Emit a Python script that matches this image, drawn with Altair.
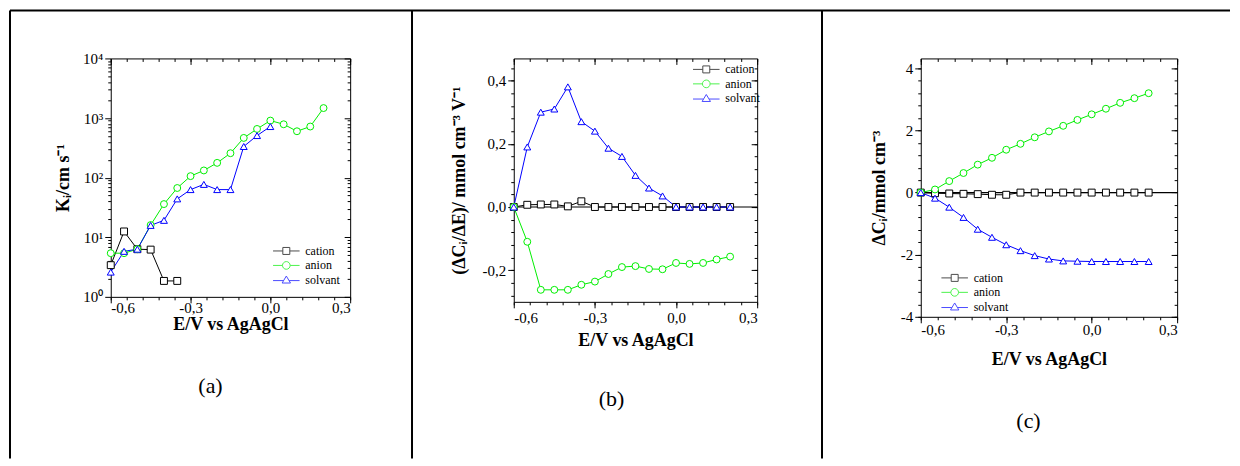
import altair as alt
import pandas as pd

# ---------------- data ----------------
E = [-0.6, -0.55, -0.5, -0.45, -0.4, -0.35, -0.3, -0.25, -0.2, -0.15,
     -0.1, -0.05, 0.0, 0.05, 0.1, 0.15, 0.2]
SERIES = ["cation", "anion", "solvant"]

# (a) K_i / cm s^-1 (log scale)
K_CATION = [3.4, 12.5, 6.3, 6.2, 1.85, 1.85]
K_ANION = [5.4, 5.4, 6.3, 16.0, 36.0, 67.0, 106.0, 132.0, 177.0, 257.0,
           464.0, 656.0, 906.0, 786.0, 600.0, 720.0, 1470.0]
K_SOLVANT = [2.6, 5.8, 6.3, 15.8, 19.2, 44.0, 63.0, 77.0, 63.0, 63.0,
             333.0, 508.0, 720.0]

# (b) (dC_i/dE) / mmol cm^-3 V^-1
R_CATION = [0.0, 0.007, 0.008, 0.008, 0.002, 0.018, 0.0, 0.0, 0.0, 0.0,
            0.0, 0.0, 0.0, 0.0, 0.0, 0.0, 0.0]
R_ANION = [0.0, -0.11, -0.262, -0.262, -0.262, -0.246, -0.236, -0.212, -0.19,
           -0.187, -0.196, -0.197, -0.177, -0.18, -0.177, -0.166, -0.157]
R_SOLVANT = [0.0, 0.19, 0.30, 0.31, 0.38, 0.27, 0.24, 0.186, 0.16, 0.10,
             0.06, 0.035, 0.0, 0.0, 0.0, 0.0, 0.0]

# (c) dC_i / mmol cm^-3
C_CATION = [0.0, -0.02, -0.03, -0.04, -0.05, -0.07, -0.07, 0.0, 0.0, 0.0,
            0.0, 0.0, 0.0, 0.0, 0.0, 0.0, 0.0]
C_ANION = [0.0, 0.1, 0.37, 0.63, 0.9, 1.12, 1.38, 1.57, 1.78, 1.97, 2.15,
           2.34, 2.52, 2.70, 2.89, 3.04, 3.2]
C_SOLVANT = [0.0, -0.18, -0.47, -0.8, -1.18, -1.44, -1.68, -1.87, -2.03,
             -2.14, -2.2, -2.21, -2.22, -2.22, -2.22, -2.22, -2.22]

X_MAJOR = [-0.6, -0.3, 0.0, 0.3]
X_MINOR = [round(-0.6 + 0.06 * i, 2) for i in range(16)]
A_MAJOR = [1, 10, 100, 1000, 10000]
A_MINOR = [m * 10 ** k for k in range(4) for m in range(2, 10)]
B_MAJOR = [-0.2, 0.0, 0.2, 0.4]
B_MINOR = [round(-0.28 + 0.04 * i, 2) for i in range(19)]
C_MAJOR = [-4, -2, 0, 2, 4]
C_MINOR = [round(-4 + 0.4 * i, 1) for i in range(21)]

FONT = "Liberation Serif"
COLORS = ["#000000", "#00ee00", "#0000ff"]
SHAPES = ["square", "circle", "triangle-up"]
LEG_SHAPES = [
    "M-3.8,0H-1M1,0H3.8M-1,-1H1V1H-1Z",
    "M-3.8,0H-1.1M1.1,0H3.8M-1.1,0A1.1,1.1,0,1,1,1.1,0A1.1,1.1,0,1,1,-1.1,0Z",
    "M-3.8,0.2H-0.8M0.8,0.2H3.8M0,-1.1L1.2,0.9H-1.2Z",
]

X_LABELS = "replace(replace(format(datum.value, '.1f'), '.', ','), '\u2212', '-')"
A_LABELS = ("datum.value < 5 ? '10\u2070' : datum.value < 50 ? '10\u00b9' : "
            "datum.value < 500 ? '10\u00b2' : datum.value < 5000 ? '10\u00b3' : '10\u2074'")
B_LABELS = "replace(replace(format(datum.value, '.1f'), '.', ','), '\u2212', '-')"
C_LABELS = "replace(format(datum.value, 'd'), '\u2212', '-')"


def long_df(values):
    rows = []
    for name, vals in zip(SERIES, values):
        for e, v in zip(E, vals):
            rows.append({"E": e, "value": v, "series": name})
    return pd.DataFrame(rows)


ONE = pd.DataFrame({"k": [0]})


def make_panel(df, yscale, y_major, y_minor, y_labels, y_title, y_title_pad,
               x_title_pad, x_label_pad, width, height, leg_xy, tag, tag_xy,
               zero_line=False, frame=False):
    xs = alt.Scale(domain=[-0.6, 0.3], nice=False, zero=False)

    def X(axis):
        return alt.X("E:Q", scale=xs, axis=axis)

    def Y(axis):
        return alt.Y("value:Q", scale=yscale, axis=axis)

    common = dict(domain=False, grid=False, tickColor="black", tickWidth=1)
    ax_b_major = alt.Axis(orient="bottom", values=X_MAJOR, tickSize=6,
                          labelExpr=X_LABELS, title="E/V vs AgAgCl",
                          titlePadding=x_title_pad, labelPadding=x_label_pad,
                          **common)
    ax_b_minor = alt.Axis(orient="bottom", values=X_MINOR, tickSize=3,
                          labels=False, title=None, **common)
    ax_t_major = alt.Axis(orient="top", values=X_MAJOR, tickSize=6, offset=-6,
                          labels=False, title=None, **common)
    ax_t_minor = alt.Axis(orient="top", values=X_MINOR, tickSize=3, offset=-3,
                          labels=False, title=None, **common)
    ax_l_major = alt.Axis(orient="left", values=y_major, tickSize=6,
                          labelExpr=y_labels, title=y_title,
                          titlePadding=y_title_pad, labelPadding=2, **common)
    ax_l_minor = alt.Axis(orient="left", values=y_minor, tickSize=3,
                          labels=False, title=None, **common)
    ax_r_major = alt.Axis(orient="right", values=y_major, tickSize=6, offset=-6,
                          labels=False, title=None, **common)
    ax_r_minor = alt.Axis(orient="right", values=y_minor, tickSize=3, offset=-3,
                          labels=False, title=None, **common)

    stroke = alt.Stroke("series:N", scale=alt.Scale(domain=SERIES, range=COLORS),
                        legend=None)
    shape = alt.Shape("series:N", scale=alt.Scale(domain=SERIES, range=SHAPES),
                      legend=None)
    base = alt.Chart(df)

    layers = []
    if zero_line:
        layers.append(alt.Chart(ONE).mark_rule(color="black", strokeWidth=1.2).encode(
            y=alt.YDatum(0, type="quantitative", scale=yscale, axis=None)))
    layers.append(base.mark_line(strokeWidth=1).encode(
        x=X(ax_b_major), y=Y(ax_l_major), stroke=stroke, detail="series:N"))
    layers.append(base.mark_point(filled=True, fill="white", size=48,
                                  strokeWidth=1, opacity=1).encode(
        x=X(ax_b_minor), y=Y(ax_l_minor), stroke=stroke, shape=shape))
    layers.append(base.mark_point(opacity=0).encode(x=X(ax_t_major), y=Y(ax_r_major)))
    layers.append(base.mark_point(opacity=0).encode(x=X(ax_t_minor), y=Y(ax_r_minor)))

    leg = alt.Legend(orient="none", legendX=leg_xy[0], legendY=leg_xy[1],
                     title=None, labelFont=FONT, labelFontSize=12,
                     labelColor="black", symbolSize=49, symbolStrokeWidth=1,
                     labelOffset=13, rowPadding=2.5, padding=0)
    layers.append(base.transform_filter("false").mark_point(filled=False, strokeWidth=1).encode(
        x=alt.X("E:Q", scale=xs, axis=None),
        y=alt.Y("value:Q", scale=yscale, axis=None),
        stroke=alt.Stroke("series:N", scale=alt.Scale(domain=SERIES, range=COLORS), legend=leg),
        shape=alt.Shape("series:N", scale=alt.Scale(domain=SERIES, range=LEG_SHAPES), legend=leg),
    ))

    layers.append(alt.Chart(pd.DataFrame({"tag": [tag]})).mark_text(
        font=FONT, fontSize=22, color="black", align="center", baseline="middle").encode(
        text="tag:N", x=alt.value(tag_xy[0]), y=alt.value(tag_xy[1])))

    if frame:
        layers.append(alt.Chart(ONE).mark_rule(color="black", strokeWidth=2).encode(
            x=alt.value(-101), x2=alt.value(1122), y=alt.value(-48)))
        for xv in (-101, 302, 713):
            layers.append(alt.Chart(ONE).mark_rule(color="black", strokeWidth=2).encode(
                x=alt.value(xv), y=alt.value(-48), y2=alt.value(401)))

    return (alt.layer(*layers)
            .resolve_scale(stroke="independent", shape="independent")
            .resolve_axis(x="independent", y="independent")
            .properties(width=width, height=height))


pa = make_panel(long_df([K_CATION, K_ANION, K_SOLVANT]),
                alt.Scale(type="log", domain=[1, 10000], nice=False),
                A_MAJOR, A_MINOR, A_LABELS, "K\u1d62/cm s\u207b\u00b9",
                10, 0, -2, 240, 239, (170, 187), "(a)", (100, 328), frame=True)
pb = make_panel(long_df([R_CATION, R_ANION, R_SOLVANT]),
                alt.Scale(domain=[-0.3, 0.47], nice=False, zero=False),
                B_MAJOR, B_MINOR, B_LABELS,
                "(\u0394C\u1d62/\u0394E)/ mmol cm\u207b\u00b3 V\u207b\u00b9",
                14, 6, 3, 244, 244, (187, 5), "(b)", (98, 341), zero_line=True)
pc = make_panel(long_df([C_CATION, C_ANION, C_SOLVANT]),
                alt.Scale(domain=[-4, 4.32], nice=False, zero=False),
                C_MAJOR, C_MINOR, C_LABELS, "\u0394C\u1d62/mmol cm\u207b\u00b3",
                12, 13, 0, 257, 259, (28, 214), "(c)", (108, 363), zero_line=True)

chart = (alt.hconcat(pa, pb, pc, spacing=164, bounds="flush")
         .properties(padding=0)
         .configure_view(stroke="black", strokeWidth=1)
         .configure_axis(labelFont=FONT, labelFontSize=15, titleFont=FONT,
                         titleFontSize=18, titleFontWeight="bold",
                         labelColor="black", titleColor="black", grid=False))

chart.save("out.html", embed_options={"renderer": "svg", "actions": False})
